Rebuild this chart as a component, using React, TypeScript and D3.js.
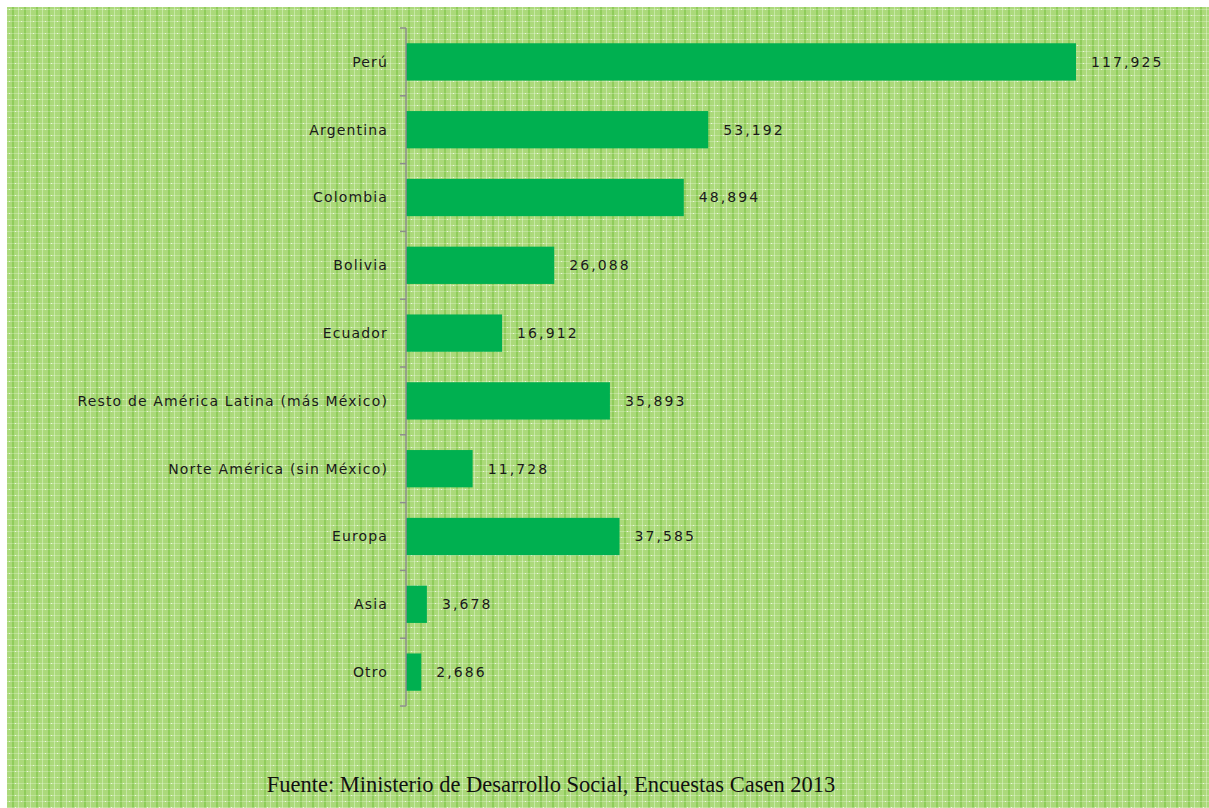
import { useEffect, useRef } from "react";
import * as d3 from "d3";

const categories = [
  "Perú",
  "Argentina",
  "Colombia",
  "Bolivia",
  "Ecuador",
  "Resto de América Latina (más México)",
  "Norte América (sin México)",
  "Europa",
  "Asia",
  "Otro",
];
const values = [117925, 53192, 48894, 26088, 16912, 35893, 11728, 37585, 3678, 2686];
const source = "Fuente: Ministerio de Desarrollo Social, Encuestas Casen 2013";

const W = 1209;
const H = 808;

const App = () => {
  const svgRef = useRef<SVGSVGElement | null>(null);

  useEffect(() => {
    const svg = d3.select(svgRef.current);
    svg.selectAll("*").remove();

    // background pattern (green plaid)
    const defs = svg.append("defs");
    const pat = defs
      .append("pattern")
      .attr("id", "plaid")
      .attr("patternUnits", "userSpaceOnUse")
      .attr("width", 12)
      .attr("height", 12);
    pat.append("rect").attr("width", 12).attr("height", 12).attr("fill", "#abd97a");
    pat.append("rect").attr("x", 0).attr("width", 2).attr("height", 12).attr("fill", "#8fcc5a");
    pat.append("rect").attr("x", 6).attr("width", 1).attr("height", 12).attr("fill", "#c6e7a4");
    pat.append("rect").attr("y", 3).attr("width", 12).attr("height", 1).attr("fill", "#ffffff").attr("opacity", 0.25);
    pat.append("rect").attr("y", 9).attr("width", 12).attr("height", 1).attr("fill", "#ffffff").attr("opacity", 0.25);
    pat.append("rect").attr("x", 3).attr("y", 3).attr("width", 1).attr("height", 1).attr("fill", "#ffffff").attr("opacity", 0.7);
    pat.append("rect").attr("x", 9).attr("y", 9).attr("width", 1).attr("height", 1).attr("fill", "#ffffff").attr("opacity", 0.7);

    svg.append("rect").attr("width", W).attr("height", H).attr("fill", "#ffffff");
    svg
      .append("rect")
      .attr("x", 7)
      .attr("y", 7)
      .attr("width", W - 7)
      .attr("height", H - 7)
      .attr("fill", "url(#plaid)");

    const x0 = 406;
    const x = d3.scaleLinear().domain([0, 140000]).range([x0, x0 + 140000 * (670 / 117925)]);
    const y = d3.scaleBand<string>().domain(categories).range([28, 706]).paddingInner(0.45).paddingOuter(0.225);

    // bars
    svg
      .append("g")
      .selectAll("rect")
      .data(values)
      .join("rect")
      .attr("x", x(0))
      .attr("y", (_, i) => y(categories[i])!)
      .attr("width", (d) => x(d) - x(0))
      .attr("height", y.bandwidth())
      .attr("fill", "#00b050");

    // axis
    const axis = svg.append("g").attr("stroke", "#8c8c8c").attr("stroke-width", 1.5);
    axis.append("line").attr("x1", x0).attr("x2", x0).attr("y1", 28).attr("y2", 706);
    const step = y.step();
    d3.range(categories.length + 1).forEach((i) => {
      const yy = 28 + i * step;
      axis.append("line").attr("x1", x0 - 6).attr("x2", x0).attr("y1", yy).attr("y2", yy);
    });

    // category labels
    svg
      .append("g")
      .selectAll("text")
      .data(categories)
      .join("text")
      .attr("x", 388)
      .attr("y", (d) => y(d)! + y.bandwidth() / 2)
      .attr("dy", "0.35em")
      .attr("text-anchor", "end")
      .attr("font-family", "'DejaVu Sans', sans-serif")
      .attr("font-size", 14)
      .attr("letter-spacing", 1.15)
      .attr("fill", "#1a1a1a")
      .text((d) => d);

    // value labels
    const fmt = d3.format(",");
    svg
      .append("g")
      .selectAll("text")
      .data(values)
      .join("text")
      .attr("x", (d) => x(d) + 15)
      .attr("y", (_, i) => y(categories[i])! + y.bandwidth() / 2)
      .attr("dy", "0.35em")
      .attr("font-family", "'DejaVu Sans', sans-serif")
      .attr("font-size", 14)
      .attr("letter-spacing", 2.1)
      .attr("fill", "#1a1a1a")
      .text((d) => fmt(d));

    // source
    svg
      .append("text")
      .attr("x", 551)
      .attr("y", 792)
      .attr("text-anchor", "middle")
      .attr("font-family", "'Liberation Serif', serif")
      .attr("font-size", 22.5)
      .attr("fill", "#111")
      .text(source);
  }, []);

  return (
    <div style={{ position: "fixed", left: 0, top: 0, width: W, height: H }}>
      <svg ref={svgRef} width={W} height={H} style={{ display: "block" }} />
    </div>
  );
};

export default App;
